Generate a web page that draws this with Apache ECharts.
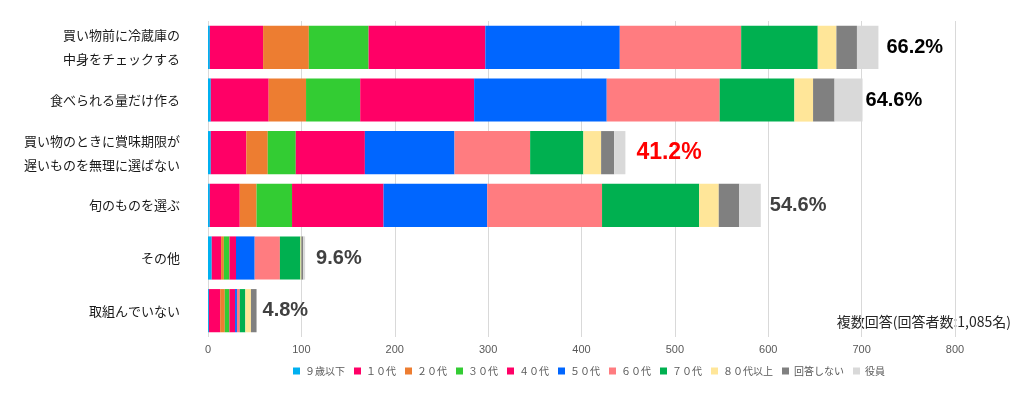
<!DOCTYPE html>
<html>
<head>
<meta charset="utf-8">
<script src="https://cdn.jsdelivr.net/npm/echarts@6/dist/echarts.min.js"></script>
<style>
html,body{margin:0;padding:0;background:#fff;}
#c{width:1024px;height:396px;}
</style>
</head>
<body>
<div id="c"></div>
<script>
const categories = ['買い物前に冷蔵庫の\n中身をチェックする','食べられる量だけ作る','買い物のときに賞味期限が\n遅いものを無理に選ばない','旬のものを選ぶ','その他','取組んでいない'];
const seriesNames = ['９歳以下','１０代','２０代','３０代','４０代','５０代','６０代','７０代','８０代以上','回答しない','役員'];
const s9  = [2, 3, 3, 2, 4, 1];
const s10 = [57, 62, 38, 32, 10, 12];
const s20 = [49, 40, 23, 18, 3, 5];
const s30 = [64, 58, 30, 38, 6, 5];
const s40 = [125, 122, 74, 98, 7, 6];
const s50 = [144, 142, 96, 111, 20, 2];
const s60 = [130, 121, 81, 123, 27, 3];
const s70 = [82, 80, 57, 104, 22, 6];
const s80 = [20, 20, 19, 21, 1, 6];
const sNo = [22, 23, 14, 22, 2, 6];
const sOff = [23, 30, 12, 23, 2, 0];
const totalLabels = ['66.2%','64.6%','41.2%','54.6%','9.6%','4.8%'];
const xTicks = [0,100,200,300,400,500,600,700,800];
const note = '複数回答(回答者数:1,085名)';

const colors = ['#00B0F0','#FF0066','#ED7D31','#33CC33','#FF0066','#0066FF','#FF7C80','#00B050','#FFE699','#808080','#D9D9D9'];
const labelColors = ['#000000','#000000','#FF0000','#404040','#404040','#404040'];
const labelSizes = [20, 20, 23, 20, 20, 20];
const labelDist = [8, 3, 11, 9, 11, 6];
const allData = [s9,s10,s20,s30,s40,s50,s60,s70,s80,sNo,sOff];

const series = allData.map((arr, i) => {
  const isLast = i === allData.length - 1;
  return {
    name: seriesNames[i],
    type: 'bar',
    stack: 'total',
    barCategoryGap: '18%',
    itemStyle: { color: colors[i] },
    emphasis: { disabled: true },
    data: arr.map((v, j) => {
      const d = { value: v };
      if (isLast) {
        d.label = {
          show: true,
          position: 'right',
          distance: labelDist[j],
          formatter: totalLabels[j],
          color: labelColors[j],
          fontSize: labelSizes[j],
          fontWeight: 'bold',
          fontFamily: 'Liberation Sans, Arial, sans-serif'
        };
      }
      return d;
    })
  };
});

const chart = echarts.init(document.getElementById('c'), null, { renderer: 'canvas' });
chart.setOption({
  animation: false,
  backgroundColor: '#fff',
  grid: { left: 208, right: 69, top: 21, bottom: 59, containLabel: false },
  legend: {
    data: seriesNames,
    left: 288,
    top: 361,
    itemWidth: 7,
    itemHeight: 7,
    itemGap: 9,
    icon: 'rect',
    textStyle: { fontSize: 10, color: '#595959', fontFamily: 'Noto Sans CJK JP, sans-serif' }
  },
  xAxis: {
    type: 'value',
    min: xTicks[0],
    max: xTicks[xTicks.length - 1],
    interval: 100,
    axisLine: { show: false },
    axisTick: { show: false },
    splitLine: { show: true, lineStyle: { color: '#D9D9D9', width: 1 } },
    axisLabel: { margin: 7, fontSize: 11, color: '#595959', fontFamily: 'Liberation Sans, Arial, sans-serif' }
  },
  yAxis: {
    type: 'category',
    inverse: true,
    data: categories,
    axisLine: { show: false },
    axisTick: { show: false },
    axisLabel: {
      margin: 28,
      fontSize: 13,
      lineHeight: 24,
      color: '#1a1a1a',
      align: 'right',
      fontFamily: 'Noto Sans CJK JP, sans-serif'
    }
  },
  graphic: [{
    type: 'text',
    right: 13,
    top: 315,
    style: { text: note, fontSize: 14, fill: '#262626', fontFamily: 'Noto Sans CJK JP, sans-serif' }
  }],
  series: series
});
</script>
</body>
</html>
